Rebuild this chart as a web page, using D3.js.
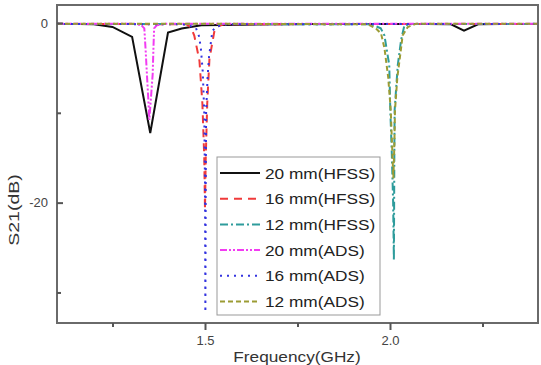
<!DOCTYPE html>
<html>
<head>
<meta charset="utf-8">
<script src="https://cdn.jsdelivr.net/npm/d3@7"></script>
<style>
  body { margin: 0; background: #fff; }
  text { font-family: "Liberation Sans", Arial, sans-serif; }
</style>
</head>
<body>
<div id="chart"></div>
<script>
// frequency (GHz) and S21 (dB), one pair of arrays per curve
const hfss20F = [1.10, 1.16, 1.20, 1.25, 1.303, 1.352, 1.40, 1.437, 1.49, 1.60, 1.70, 1.80, 1.90, 2.00, 2.10, 2.165, 2.20, 2.238, 2.30, 2.40];
const hfss20S = [-0.12, -0.12, -0.15, -0.44, -1.55, -12.25, -1.07, -0.62, -0.25, -0.2, -0.15, -0.12, -0.12, -0.12, -0.12, -0.15, -0.85, -0.15, -0.12, -0.12];

const hfss16F = [1.10, 1.30, 1.45, 1.462, 1.471, 1.485, 1.493, 1.498, 1.500, 1.502, 1.506, 1.512, 1.525, 1.535, 1.55, 1.80, 2.40];
const hfss16S = [-0.12, -0.12, -0.15, -0.5, -1.4, -4.2, -9, -15, -20.8, -15, -9, -4.0, -1.0, -0.4, -0.15, -0.12, -0.12];

const hfss12F = [1.10, 1.60, 1.95, 1.975, 1.985, 1.998, 2.0008, 2.0046, 2.0085, 2.0105, 2.0112, 2.0118, 2.0125, 2.021, 2.030, 2.039, 2.06, 2.40];
const hfss12S = [-0.12, -0.12, -0.15, -0.6, -1.4, -4.7, -9.7, -14.2, -20, -26.4, -20, -14.2, -9.7, -4.7, -1.9, -0.25, -0.12, -0.12];

const ads20F = [1.10, 1.31, 1.328, 1.336, 1.3395, 1.343, 1.3465, 1.3495, 1.354, 1.3586, 1.3605, 1.3625, 1.37, 1.39, 2.40];
const ads20S = [-0.1, -0.1, -0.25, -0.6, -3, -5.7, -8.3, -10.8, -8.3, -5.7, -3, -0.6, -0.25, -0.1, -0.1];

const ads16F = [1.10, 1.44, 1.475, 1.484, 1.489, 1.494, 1.498, 1.500, 1.501, 1.502, 1.503, 1.507, 1.511, 1.52, 1.53, 1.56, 2.40];
const ads16S = [-0.1, -0.15, -0.5, -1.5, -2.9, -5.5, -10, -18, -32.2, -18, -10, -6, -3.7, -0.9, -0.4, -0.15, -0.1];

const ads12F = [1.10, 1.60, 1.94, 1.962, 1.976, 1.985, 1.995, 2.002, 2.006, 2.009, 2.0115, 2.0135, 2.020, 2.030, 2.034, 2.048, 2.07, 2.40];
const ads12S = [-0.1, -0.1, -0.15, -0.6, -1.2, -2.8, -6, -9.7, -14, -17.3, -14, -9.7, -6, -2.8, -1.4, -0.45, -0.1, -0.1];

const seriesNames = ['20 mm(HFSS)', '16 mm(HFSS)', '12 mm(HFSS)', '20 mm(ADS)', '16 mm(ADS)', '12 mm(ADS)'];
const xTicks = [1.25, 1.5, 1.75, 2.0, 2.25];
const xLabels = [1.5, 2.0];
const yTicks = [0, -10, -20, -30];
const yLabels = [0, -20];

const series = [
    { name: seriesNames[0], f: hfss20F, s: hfss20S, color: '#111', dash: null },
    { name: seriesNames[1], f: hfss16F, s: hfss16S, color: '#f03a3a', dash: '8,6' },
    { name: seriesNames[2], f: hfss12F, s: hfss12S, color: '#2e9c9c', dash: '8,3,2,3' },
    { name: seriesNames[3], f: ads20F, s: ads20S, color: '#f23cf2', dash: '7,2,2,2,2,2' },
    { name: seriesNames[4], f: ads16F, s: ads16S, color: '#3434e0', dash: '2,5' },
    { name: seriesNames[5], f: ads12F, s: ads12S, color: '#9c9c34', dash: '5,3' }
];

const width = 541, height = 365;
const margin = { left: 57, top: 5, right: 3, bottom: 42 };

const svg = d3.select('#chart')
    .append('svg')
    .attr('width', width)
    .attr('height', height);

const x = d3.scaleLinear().domain([1.1, 2.4]).range([margin.left, width - margin.right]);
const y = d3.scaleLinear().domain([-33.4, 2]).range([height - margin.bottom, margin.top]);

svg.append('clipPath').attr('id', 'clip')
    .append('rect')
    .attr('x', x.range()[0]).attr('y', y.range()[1])
    .attr('width', x.range()[1] - x.range()[0])
    .attr('height', y.range()[0] - y.range()[1]);

// curves
const line = d3.line().x(d => x(d[0])).y(d => y(d[1]));
svg.append('g').attr('clip-path', 'url(#clip)')
    .selectAll('path')
    .data(series)
    .join('path')
    .attr('d', d => line(d.f.map((f, i) => [f, d.s[i]])))
    .attr('fill', 'none')
    .attr('stroke', d => d.color)
    .attr('stroke-width', 2)
    .attr('stroke-dasharray', d => d.dash);

// frame
svg.append('rect')
    .attr('x', x.range()[0]).attr('y', y.range()[1])
    .attr('width', x.range()[1] - x.range()[0])
    .attr('height', y.range()[0] - y.range()[1])
    .attr('fill', 'none')
    .attr('stroke', '#6a6a6a')
    .attr('stroke-width', 2);

// x axis, ticks outward, labels only on majors
const xAxis = svg.append('g')
    .attr('transform', `translate(0,${y.range()[0]})`)
    .call(d3.axisBottom(x).tickValues(xTicks).tickSize(7).tickPadding(6)
        .tickFormat(d => xLabels.includes(d) ? d3.format('.1f')(d) : ''));
xAxis.select('.domain').remove();
xAxis.selectAll('.tick line')
    .attr('stroke', '#555').attr('stroke-width', 2)
    .attr('y2', d => xLabels.includes(d) ? 7 : 4);
xAxis.selectAll('.tick text')
    .attr('fill', '#444').style('font-size', '13px');

// y axis, ticks inward
const yAxis = svg.append('g')
    .attr('transform', `translate(${x.range()[0]},0)`)
    .call(d3.axisLeft(y).tickValues(yTicks).tickSizeInner(-6).tickSizeOuter(0).tickPadding(9)
        .tickFormat(d => yLabels.includes(d) ? d : ''));
yAxis.select('.domain').remove();
yAxis.selectAll('.tick line')
    .attr('stroke', '#555').attr('stroke-width', 2)
    .attr('x2', d => yLabels.includes(d) ? 6 : 4);
yAxis.selectAll('.tick text')
    .attr('fill', '#444').style('font-size', '13px');

// axis titles
svg.append('text')
    .attr('transform', `translate(297,362) scale(1.15,1)`)
    .attr('text-anchor', 'middle')
    .attr('fill', '#333')
    .style('font-size', '15px')
    .text('Frequency(GHz)');

svg.append('text')
    .attr('transform', `translate(19,210) rotate(-90) scale(1.3,1)`)
    .attr('text-anchor', 'middle')
    .attr('fill', '#333')
    .style('font-size', '15px')
    .text('S21(dB)');

// legend
const legend = svg.append('g').attr('transform', 'translate(217,157)');
legend.append('rect')
    .attr('width', 163).attr('height', 158)
    .attr('fill', '#fff')
    .attr('stroke', '#999')
    .attr('stroke-width', 1);

const item = legend.selectAll('g.item')
    .data(series)
    .join('g')
    .attr('class', 'item')
    .attr('transform', (d, i) => `translate(0,${16 + i * 25.7})`);

item.append('line')
    .attr('x1', 3).attr('x2', 43)
    .attr('stroke', d => d.color)
    .attr('stroke-width', 2)
    .attr('stroke-dasharray', d => d.dash);

item.append('text')
    .attr('transform', 'translate(48,5.5) scale(1.15,1)')
    .attr('fill', '#222')
    .style('font-size', '15px')
    .text(d => d.name);
</script>
</body>
</html>
